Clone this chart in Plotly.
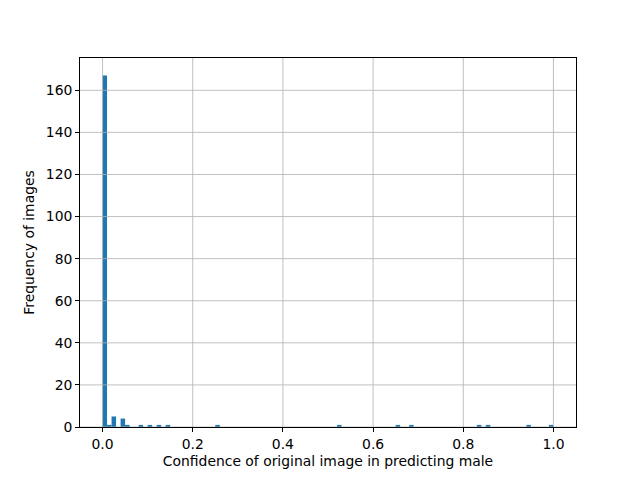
import plotly.graph_objects as go

# Histogram data: 100 bins of width 0.01 on [0, 1]
bin_width = 0.01
bin_left_edges = [0.00, 0.01, 0.02, 0.04, 0.05, 0.08, 0.10, 0.12, 0.14,
                  0.25, 0.52, 0.65, 0.68, 0.83, 0.85, 0.94, 0.99]
counts = [167, 1, 5, 4, 1, 1, 1, 1, 1,
          1, 1, 1, 1, 1, 1, 1, 1]

x_ticks = [0.0, 0.2, 0.4, 0.6, 0.8, 1.0]
x_tick_labels = ["0.0", "0.2", "0.4", "0.6", "0.8", "1.0"]
y_ticks = [0, 20, 40, 60, 80, 100, 120, 140, 160]
y_tick_labels = [str(v) for v in y_ticks]

x_title = "Confidence of original image in predicting male"
y_title = "Frequency of images"

centers = [e + bin_width / 2 for e in bin_left_edges]

fig = go.Figure()
fig.add_trace(go.Bar(
    x=centers, y=counts, width=[bin_width] * len(centers),
    marker=dict(color="#1f77b4", line=dict(width=0)),
    hoverinfo="x+y",
))

x_min = min(bin_left_edges)
x_max = max(bin_left_edges) + bin_width
x_pad = (x_max - x_min) * 0.05
y_max = max(counts) * 1.05

grid_color = "#b0b0b0"
font = dict(family="DejaVu Sans", size=13.9, color="black")

# Grid lines drawn above the bars, as in the pandas/matplotlib style
shapes = []
for t in x_ticks:
    shapes.append(dict(type="line", xref="x", yref="paper", x0=t, x1=t, y0=0, y1=1,
                       line=dict(color=grid_color, width=0.8), layer="above"))
for t in y_ticks:
    shapes.append(dict(type="line", xref="paper", yref="y", x0=0, x1=1, y0=t, y1=t,
                       line=dict(color=grid_color, width=0.8), layer="above"))

# The page body adds an 8px offset, so the figure is 8px smaller with 8px less
# left/top margin to land the plot area where the reference has it.
fig.update_layout(
    width=632, height=472,
    margin=dict(l=72, r=64, t=50, b=53, pad=0),
    paper_bgcolor="white", plot_bgcolor="white",
    font=font,
    showlegend=False,
    shapes=shapes,
    xaxis=dict(
        range=[x_min - x_pad, x_max + x_pad],
        tickvals=x_ticks, ticktext=x_tick_labels,
        showgrid=False, zeroline=False,
        showline=True, linecolor="black", linewidth=0.8, mirror=True,
        ticks="outside", ticklen=4, tickwidth=0.8, tickcolor="black",
        title=dict(text=x_title, font=font, standoff=5),
        layer="above traces", automargin=False,
    ),
    yaxis=dict(
        range=[0, y_max],
        tickvals=y_ticks, ticktext=y_tick_labels,
        showgrid=False, zeroline=False,
        showline=True, linecolor="black", linewidth=0.8, mirror=True,
        ticks="outside", ticklen=4, tickwidth=0.8, tickcolor="black",
        title=dict(text=y_title, font=font, standoff=7),
        layer="above traces", automargin=False,
    ),
)

fig.write_html("out.html")
